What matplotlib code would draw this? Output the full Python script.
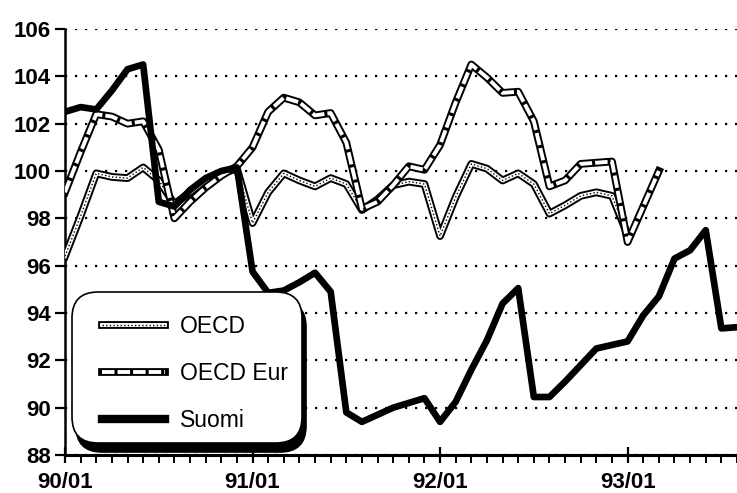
"""Monthly index chart: OECD, OECD Europe and Suomi, 90/01 - 93/08 (100 = base)."""

import matplotlib
matplotlib.use("Agg")
import matplotlib.pyplot as plt
from matplotlib.lines import Line2D
from matplotlib.patches import FancyBboxPatch
from matplotlib.ticker import MultipleLocator

plt.rcParams["font.family"] = ["Liberation Sans", "DejaVu Sans"]
plt.rcParams["lines.scale_dashes"] = False

# month index 0 = 90/01
year_ticks = [0, 12, 24, 36]
year_labels = ["90/01", "91/01", "92/01", "93/01"]

oecd = [96.4, 98.1, 99.9, 99.75, 99.7, 100.15, 99.6, 98.6, 99.1, 99.6, 99.9, 100.1,
        97.8, 99.1, 99.9, 99.6, 99.35, 99.7, 99.45, 98.35, 98.8, 99.4, 99.55, 99.45,
        97.25, 98.9, 100.3, 100.1, 99.6, 99.9, 99.45, 98.2, 98.55, 98.95, 99.1, 98.95,
        97.3]
oecd_eur = [99.1, 100.8, 102.4, 102.3, 102.0, 102.1, 100.9, 98.0, 98.7, 99.3, 99.8, 100.2,
            101.0, 102.5, 103.1, 102.9, 102.35, 102.45, 101.2, 98.4, 98.7, 99.4, 100.2, 100.05,
            101.1, 102.9, 104.5, 103.95, 103.3, 103.35, 102.1, 99.35, 99.6, 100.3, 100.35, 100.4,
            97.0, 98.5, 100.0]
suomi = [102.5, 102.7, 102.6, 103.4, 104.3, 104.5, 98.7, 98.5, 99.2, 99.7, 100.0, 100.15,
         95.75, 94.85, 94.95, 95.3, 95.7, 94.9, 89.8, 89.4, 89.7, 90.0, 90.2, 90.4,
         89.4, 90.25, 91.6, 92.85, 94.4, 95.05, 90.45, 90.45, 91.1, 91.8, 92.5, 92.65,
         92.8, 93.9, 94.7, 96.3, 96.65, 97.5, 93.35, 93.4]

outer_lw = 5.6
inner_lw = 2.8


def oecd_style():
    return [dict(color="black", lw=outer_lw),
            dict(color="white", lw=inner_lw),
            dict(color="black", lw=1.0, dashes=(1, 1.6))]


def eur_style():
    return [dict(color="black", lw=outer_lw),
            dict(color="white", lw=inner_lw, dashes=(9, 2.2))]


fig = plt.figure(figsize=(7.37, 4.93), dpi=100)
ax = fig.add_axes([65 / 737, 1 - 455 / 493, 672 / 737, 426 / 493])

for z, kw in enumerate(oecd_style()):
    ax.plot(range(len(oecd)), oecd, zorder=3 + z * 0.1, **kw)
for z, kw in enumerate(eur_style()):
    ax.plot(range(len(oecd_eur)), oecd_eur, zorder=3.5 + z * 0.1, **kw)
ax.plot(range(len(suomi)), suomi, color="black", lw=4.8, zorder=4)

ax.set_xlim(0, 43)
ax.set_ylim(88, 106)
ax.set_yticks(range(88, 107, 2))
ax.set_xticks(year_ticks, year_labels)
ax.xaxis.set_minor_locator(MultipleLocator(1))
ax.yaxis.grid(True, color="black", lw=1.6, linestyle=(0, (1.6, 5.6)), zorder=1)
ax.set_axisbelow(True)

for s in ["top", "right"]:
    ax.spines[s].set_visible(False)
ax.spines["left"].set_linewidth(1.8)
ax.spines["bottom"].set_linewidth(2.2)

ax.tick_params(axis="y", direction="out", length=7, width=1.6, pad=3)
ax.tick_params(axis="x", which="major", direction="inout", length=12, width=1.6, pad=6.5)
ax.tick_params(axis="x", which="minor", direction="out", length=5.5, width=1.4)
for lab in ax.get_xticklabels() + ax.get_yticklabels():
    lab.set_fontsize(16)
    lab.set_fontweight("bold")

# rounded legend box with a heavy drop shadow
aspect = 672 / 426
x0, x1 = (72 - 65) / 672, (302 - 65) / 672
y0, y1 = (455 - 443) / 426, (455 - 292) / 426
r = 26 / 672
shadow = FancyBboxPatch((x0 + 4 / 672, y0 - 9 / 426), x1 - x0, y1 - y0,
                        boxstyle=f"round,pad=0,rounding_size={r}", mutation_aspect=aspect,
                        transform=ax.transAxes, facecolor="black", edgecolor="black",
                        lw=1.2, zorder=6, clip_on=False)
box = FancyBboxPatch((x0, y0), x1 - x0, y1 - y0,
                     boxstyle=f"round,pad=0,rounding_size={r}", mutation_aspect=aspect,
                     transform=ax.transAxes, facecolor="white", edgecolor="black",
                     lw=1.2, zorder=6.5, clip_on=False)
ax.add_patch(shadow)
ax.add_patch(box)

handles = [tuple(Line2D([], [], **kw) for kw in oecd_style()),
           tuple(Line2D([], [], **kw) for kw in eur_style()),
           Line2D([], [], color="black", lw=6)]
leg = ax.legend(handles, ["OECD", "OECD Eur", "Suomi"], loc="upper left",
                bbox_to_anchor=((102 - 65) / 672, (455 - 315) / 426), frameon=False,
                fontsize=16.5, handlelength=2.75, handletextpad=0.66, labelspacing=1.05,
                borderpad=0, borderaxespad=0)
leg.set_zorder(7)

fig.savefig("out.png", dpi=100)
